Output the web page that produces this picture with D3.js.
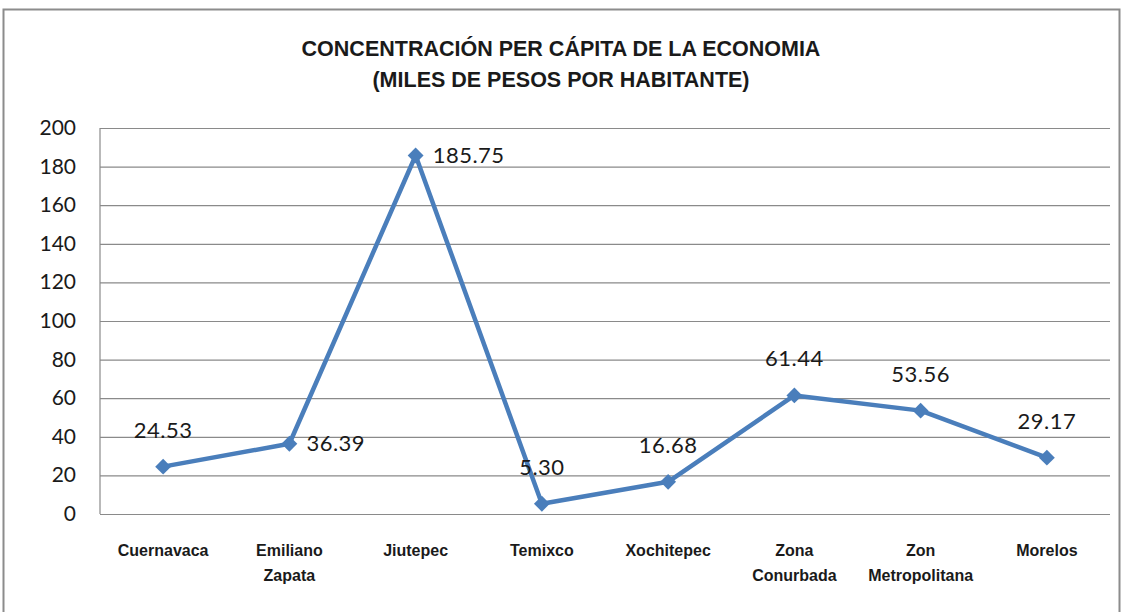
<!DOCTYPE html>
<html>
<head>
<meta charset="utf-8">
<script src="https://cdn.jsdelivr.net/npm/d3@7"></script>
<style>
  body { margin: 0; background: #fff; overflow: hidden; }
  svg { display: block; }
  svg text { fill: #1a1a1a; }
  .cond { font-family: "Liberation Sans", Arial, sans-serif; }
  .num { font-family: Lato, "Open Sans", sans-serif; }
</style>
</head>
<body>
<div class="chart"></div>
<script>
const width = 1123;
const height = 613;

const categories = [
  ["Cuernavaca"], ["Emiliano", "Zapata"], ["Jiutepec"], ["Temixco"],
  ["Xochitepec"], ["Zona", "Conurbada"], ["Zon", "Metropolitana"], ["Morelos"]
];
const values = [24.53, 36.39, 185.75, 5.30, 16.68, 61.44, 53.56, 29.17];
const labels = ["24.53", "36.39", "185.75", "5.30", "16.68", "61.44", "53.56", "29.17"];
const yTicks = [0, 20, 40, 60, 80, 100, 120, 140, 160, 180, 200];
const titleLines = ["CONCENTRACIÓN PER CÁPITA DE LA ECONOMIA", "(MILES DE PESOS POR HABITANTE)"];

const margin = { top: 128, right: 13, bottom: 99, left: 100 };
const innerWidth = width - margin.left - margin.right;
const innerHeight = height - margin.top - margin.bottom;

const svg = d3.select(".chart")
  .append("svg")
  .attr("width", width)
  .attr("height", height);

// outer frame (top, left, right edges; bottom runs off the picture)
svg.append("path")
  .attr("d", "M3.5,612 L3.5,9.5 L1119.5,9.5 L1119.5,612")
  .attr("fill", "none")
  .attr("stroke", "#8c8c8c")
  .attr("stroke-width", 2);

svg.selectAll(".title")
  .data(titleLines)
  .enter()
  .append("text")
  .attr("class", "title cond")
  .attr("x", 561)
  .attr("y", (d, i) => 56 + i * 31)
  .attr("text-anchor", "middle")
  .style("font-size", "21.5px")
  .style("font-weight", "bold")
  .text(d => d);

const g = svg.append("g")
  .attr("transform", `translate(${margin.left},${margin.top})`);

const x = d3.scaleBand()
  .domain(d3.range(categories.length))
  .range([0, innerWidth]);

const y = d3.scaleLinear()
  .domain([0, 200])
  .range([innerHeight, 0]);

// gridlines
g.append("g")
  .attr("class", "grid")
  .call(d3.axisLeft(y).tickValues(yTicks).tickSize(-innerWidth).tickFormat(""))
  .call(s => s.select(".domain").remove())
  .call(s => s.selectAll("line").attr("stroke", "#8a8a8a").attr("stroke-width", 1.2));

// plot frame left edge
g.append("line")
  .attr("x1", 0).attr("x2", 0)
  .attr("y1", 0).attr("y2", innerHeight)
  .attr("stroke", "#8a8a8a").attr("stroke-width", 1.2);

// y axis labels
g.selectAll(".ytick")
  .data(yTicks)
  .enter()
  .append("text")
  .attr("class", "ytick num")
  .attr("x", -24)
  .attr("y", d => y(d) + 7)
  .attr("text-anchor", "end")
  .style("font-size", "21px")
  .text(d => d);

// x axis labels, one text per line
const cx = i => x(i) + x.bandwidth() / 2;
const catLines = [];
categories.forEach((c, i) => c.forEach((t, j) => catLines.push({ i, j, t })));
g.selectAll(".xtick")
  .data(catLines)
  .enter()
  .append("text")
  .attr("class", "xtick cond")
  .attr("x", d => cx(d.i))
  .attr("y", d => innerHeight + 42 + d.j * 25)
  .attr("text-anchor", "middle")
  .style("font-size", "16px")
  .style("font-weight", "bold")
  .text(d => d.t);

const line = d3.line()
  .x((d, i) => cx(i))
  .y(d => y(d));

g.append("path")
  .datum(values)
  .attr("fill", "none")
  .attr("stroke", "#4a7ebb")
  .attr("stroke-width", 4.5)
  .attr("stroke-linejoin", "round")
  .attr("d", line);

g.selectAll(".dot")
  .data(values)
  .enter()
  .append("path")
  .attr("class", "dot")
  .attr("d", d3.symbol().type(d3.symbolDiamond2).size(160))
  .attr("transform", (d, i) => `translate(${cx(i)},${y(d)})`)
  .attr("fill", "#4a7ebb");

// data labels: Emiliano Zapata and Jiutepec sit right of their points
const labelPos = ["above", "right", "right", "above", "above", "above", "above", "above"];
g.selectAll(".lbl")
  .data(values)
  .enter()
  .append("text")
  .attr("class", "lbl num")
  .attr("x", (d, i) => labelPos[i] === "right" ? cx(i) + 17 : cx(i))
  .attr("y", (d, i) => labelPos[i] === "right" ? y(d) + 7 : y(d) - 29)
  .attr("text-anchor", (d, i) => labelPos[i] === "right" ? "start" : "middle")
  .style("font-size", "22px")
  .style("letter-spacing", "0.5px")
  .text((d, i) => labels[i]);
</script>
</body>
</html>
